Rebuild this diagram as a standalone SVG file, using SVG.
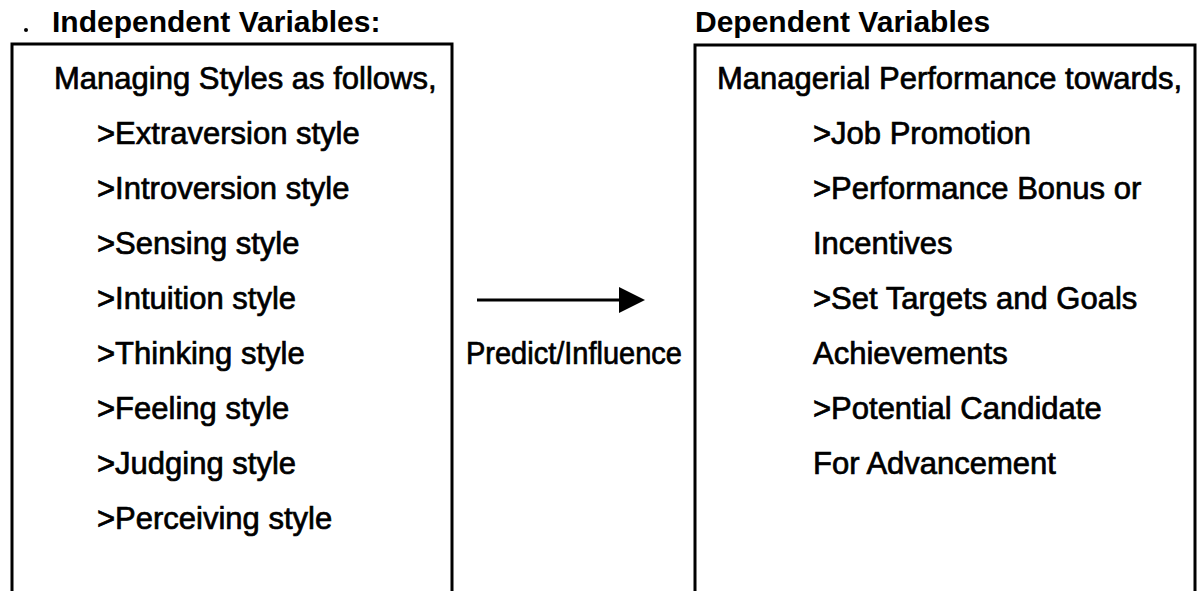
<svg xmlns="http://www.w3.org/2000/svg" width="1200" height="591" viewBox="0 0 1200 591">
  <style>
    .head { font-family: "Liberation Sans", Arial, sans-serif; font-weight: bold; font-size: 30px; fill: #000; }
    .body { font-family: "Liberation Sans", Arial, sans-serif; font-size: 31px; fill: #000; stroke: #000; stroke-width: 0.7; }
    .frame { fill: none; stroke: #000; stroke-width: 3; }
  </style>
  <defs>
    <marker id="arrowhead" markerWidth="28" markerHeight="26" refX="0" refY="13" orient="auto" markerUnits="userSpaceOnUse">
      <path d="M0,0 L26,13 L0,26 Z" fill="#000"/>
    </marker>
  </defs>
  <rect width="1200" height="591" fill="#fff"/>

  <!-- independent variables panel -->
  <g id="independent">
    <circle cx="26" cy="30" r="2" fill="#000"/>
    <text class="head" x="52" y="32">Independent Variables:</text>
    <path class="frame" d="M12,591 V44 H452 V591"/>
    <text class="body" x="54" y="89">Managing Styles as follows,</text>
    <text class="body" x="97" y="144">&gt;Extraversion style</text>
    <text class="body" x="97" y="199">&gt;Introversion style</text>
    <text class="body" x="97" y="254">&gt;Sensing style</text>
    <text class="body" x="97" y="309">&gt;Intuition style</text>
    <text class="body" x="97" y="364">&gt;Thinking style</text>
    <text class="body" x="97" y="419">&gt;Feeling style</text>
    <text class="body" x="97" y="474">&gt;Judging style</text>
    <text class="body" x="97" y="529">&gt;Perceiving style</text>
  </g>

  <!-- dependent variables panel -->
  <g id="dependent">
    <text class="head" x="695" y="32">Dependent Variables</text>
    <path class="frame" d="M695,591 V45 H1195 V591"/>
    <text class="body" x="717" y="89">Managerial Performance towards,</text>
    <text class="body" x="813" y="144">&gt;Job Promotion</text>
    <text class="body" x="813" y="199">&gt;Performance Bonus or</text>
    <text class="body" x="813" y="254">Incentives</text>
    <text class="body" x="813" y="309">&gt;Set Targets and Goals</text>
    <text class="body" x="813" y="364">Achievements</text>
    <text class="body" x="813" y="419">&gt;Potential Candidate</text>
    <text class="body" x="813" y="474">For Advancement</text>
  </g>

  <!-- connector between panels -->
  <g id="connectors">
    <line x1="477" y1="300" x2="619" y2="300" stroke="#000" stroke-width="3" marker-end="url(#arrowhead)"/>
    <text class="body" x="466" y="364" textLength="216" lengthAdjust="spacingAndGlyphs">Predict/Influence</text>
  </g>
</svg>
